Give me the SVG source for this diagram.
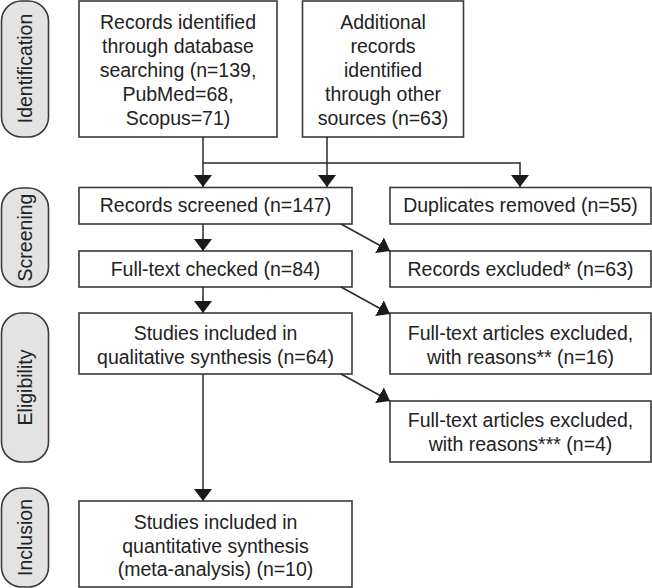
<svg xmlns="http://www.w3.org/2000/svg" width="652" height="588" viewBox="0 0 652 588">
<style>
.box{fill:#fff;stroke:#3a3a3a;stroke-width:1.6}
.phase{fill:#e3e3e3;stroke:#3a3a3a;stroke-width:1.6}
.t{font-family:"Liberation Sans",Arial,sans-serif;font-size:19.5px;fill:#222;text-anchor:middle}
.c{fill:none;stroke:#2a2a2a;stroke-width:1.5}
</style>
<defs>
<marker id="ah" markerUnits="userSpaceOnUse" markerWidth="12" markerHeight="18" viewBox="0 0 12 18" refX="12" refY="9" orient="auto">
<path d="M0,0 L12,9 L0,18 Z" fill="#1a1a1a"/>
</marker>
</defs>
<g id="phase-identification"><rect class="phase" x="1.5" y="1" width="47" height="136" rx="20"/><text class="t" transform="translate(32,68.5) rotate(-90)">Identification</text></g>
<g id="phase-screening"><rect class="phase" x="1.5" y="188" width="47" height="99" rx="20"/><text class="t" transform="translate(32,237.5) rotate(-90)">Screening</text></g>
<g id="phase-eligibility"><rect class="phase" x="1.5" y="313" width="47" height="149" rx="20"/><text class="t" transform="translate(32,387.5) rotate(-90)">Eligibility</text></g>
<g id="phase-inclusion"><rect class="phase" x="1.5" y="488" width="47" height="99" rx="20"/><text class="t" transform="translate(32,537.5) rotate(-90)">Inclusion</text></g>

<g id="n-database"><rect class="box" x="79" y="1" width="198" height="136"/>
<text class="t"><tspan x="178" y="29">Records identified</tspan><tspan x="178" y="53">through database</tspan><tspan x="178" y="77">searching (n=139,</tspan><tspan x="178" y="101">PubMed=68,</tspan><tspan x="178" y="125">Scopus=71)</tspan></text></g>
<g id="n-other"><rect class="box" x="302.5" y="1" width="161" height="136"/>
<text class="t"><tspan x="383" y="29">Additional</tspan><tspan x="383" y="53">records</tspan><tspan x="383" y="77">identified</tspan><tspan x="383" y="101">through other</tspan><tspan x="383" y="125">sources (n=63)</tspan></text></g>
<g id="n-screened"><rect class="box" x="79" y="187.5" width="273" height="36.5"/><text class="t" x="215.5" y="212">Records screened (n=147)</text></g>
<g id="n-duplicates"><rect class="box" x="390" y="187.5" width="261" height="36.5"/><text class="t" x="520.5" y="212">Duplicates removed (n=55)</text></g>
<g id="n-fulltext"><rect class="box" x="79" y="251" width="273" height="36"/><text class="t" x="215.5" y="276">Full-text checked (n=84)</text></g>
<g id="n-excluded"><rect class="box" x="390" y="251" width="261" height="36"/><text class="t" x="520.5" y="276">Records excluded* (n=63)</text></g>
<g id="n-qualitative"><rect class="box" x="79" y="313" width="273" height="61"/><text class="t"><tspan x="215.5" y="340">Studies included in</tspan><tspan x="215.5" y="364">qualitative synthesis (n=64)</tspan></text></g>
<g id="n-excl16"><rect class="box" x="390" y="313" width="261" height="61"/><text class="t"><tspan x="520.5" y="340">Full-text articles excluded,</tspan><tspan x="520.5" y="364">with reasons** (n=16)</tspan></text></g>
<g id="n-excl4"><rect class="box" x="390" y="401" width="261" height="61"/><text class="t"><tspan x="520.5" y="427">Full-text articles excluded,</tspan><tspan x="520.5" y="451">with reasons*** (n=4)</tspan></text></g>
<g id="n-quantitative"><rect class="box" x="79" y="501" width="273" height="86"/><text class="t"><tspan x="215.5" y="529">Studies included in</tspan><tspan x="215.5" y="553">quantitative synthesis</tspan><tspan x="215.5" y="576">(meta-analysis) (n=10)</tspan></text></g>

<g id="connectors">
<path class="c" d="M203,137 V187" marker-end="url(#ah)"/>
<path class="c" d="M327,137 V187" marker-end="url(#ah)"/>
<path class="c" d="M203,163 H520 V187" marker-end="url(#ah)"/>
<path class="c" d="M203,224 V251" marker-end="url(#ah)"/>
<path class="c" d="M203,287 V313" marker-end="url(#ah)"/>
<path class="c" d="M203,374 V501" marker-end="url(#ah)"/>
<path class="c" d="M341,224 L390,251" marker-end="url(#ah)"/>
<path class="c" d="M341,287 L390,314" marker-end="url(#ah)"/>
<path class="c" d="M341,374 L390,401" marker-end="url(#ah)"/>
</g>
</svg>
